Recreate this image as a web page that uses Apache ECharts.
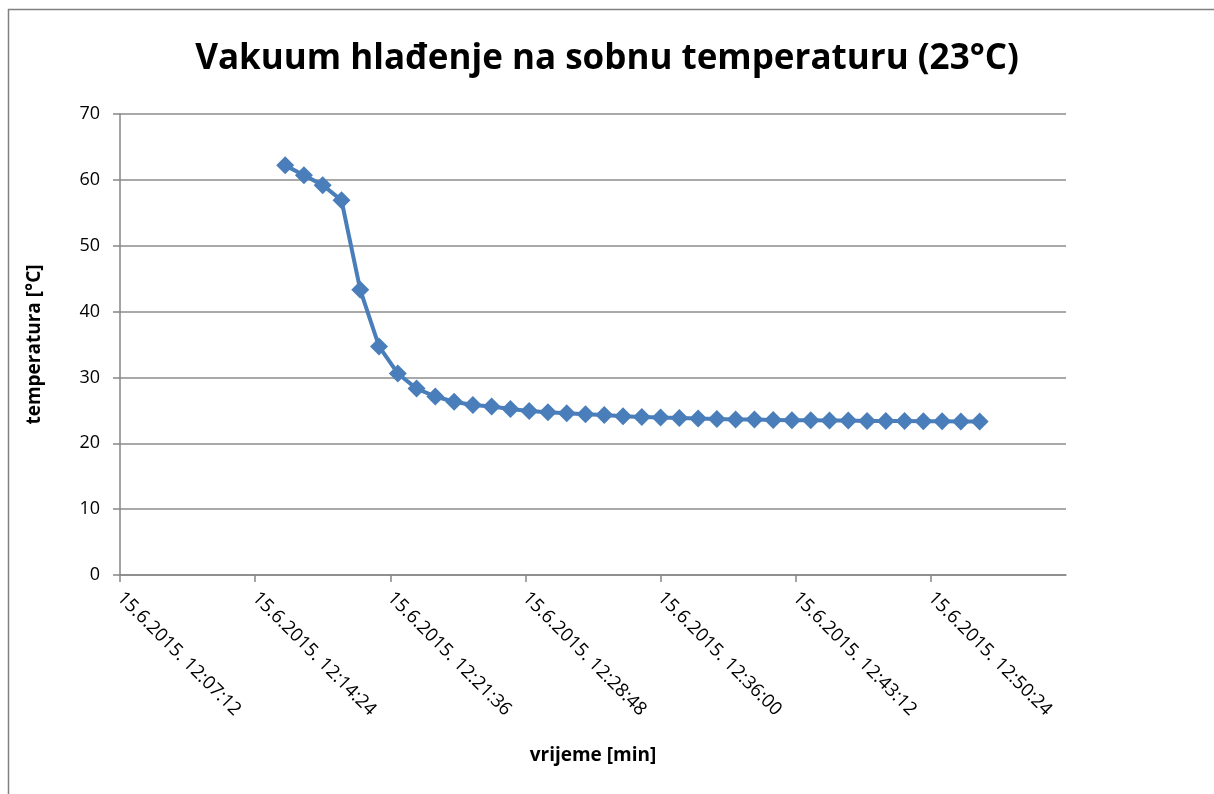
<!DOCTYPE html>
<html>
<head>
<meta charset="utf-8">
<script src="https://cdn.jsdelivr.net/npm/echarts@6/dist/echarts.min.js"></script>
<style>html,body{margin:0;padding:0;background:#fff}#c{width:1214px;height:794px}</style>
</head>
<body>
<div id="c"></div>
<script>
var titleText = 'Vakuum hlađenje na sobnu temperaturu (23°C)';
var times = ['12:16:00','12:17:00','12:18:00','12:19:00','12:20:00','12:21:00','12:22:00','12:23:00','12:24:00','12:25:00',
  '12:26:00','12:27:00','12:28:00','12:29:00','12:30:00','12:31:00','12:32:00','12:33:00','12:34:00','12:35:00',
  '12:36:00','12:37:00','12:38:00','12:39:00','12:40:00','12:41:00','12:42:00','12:43:00','12:44:00','12:45:00',
  '12:46:00','12:47:00','12:48:00','12:49:00','12:50:00','12:51:00','12:52:00','12:53:00'];
var temps = [62.2,60.7,59.2,56.9,43.3,34.7,30.6,28.3,27.1,26.3,
  25.8,25.6,25.2,24.9,24.7,24.55,24.4,24.3,24.1,24.0,
  23.9,23.85,23.75,23.7,23.6,23.6,23.55,23.5,23.5,23.45,
  23.45,23.4,23.4,23.4,23.35,23.35,23.3,23.3];
var xTickLabels = ['12:07:12','12:14:24','12:21:36','12:28:48','12:36:00','12:43:12','12:50:24'];
var xMaxTime = '12:57:36';
var datePrefix = '15.6.2015. ';

function toSec(s){var p=s.split(':');return (+p[0])*3600+(+p[1])*60+(+p[2]);}
function pad(n){return (n<10?'0':'')+n;}
function fmt(v){var h=Math.floor(v/3600),m=Math.floor((v%3600)/60),s=Math.round(v%60);return datePrefix+pad(h)+':'+pad(m)+':'+pad(s);}

var tickVals = xTickLabels.map(toSec);
var data = times.map(function(t,i){return [toSec(t), temps[i]];});
var font = '"Open Sans", "Liberation Sans", sans-serif';

var chart = echarts.init(document.getElementById('c'), null, {renderer:'canvas'});
chart.setOption({
  animation:false,
  title:{text:titleText,left:'center',top:37,textStyle:{fontFamily:font,fontSize:35,fontWeight:'bold',color:'#000'}},
  grid:{left:120,right:148,top:114,bottom:219,containLabel:false},
  xAxis:{
    type:'value',
    min:tickVals[0], max:toSec(xMaxTime), interval:432,
    name:'vrijeme [min]', nameLocation:'middle', nameGap:171,
    nameTextStyle:{fontFamily:font,fontSize:19,fontWeight:'bold',color:'#000'},
    axisLine:{show:true,lineStyle:{color:'#868686',width:1.5}},
    axisTick:{show:true,length:7,inside:false,customValues:tickVals,lineStyle:{color:'#868686',width:1.5}},
    axisLabel:{rotate:-45,margin:20,fontFamily:font,fontSize:18.5,color:'#000',customValues:tickVals,
      formatter:function(v){return fmt(v);}},
    splitLine:{show:false}
  },
  yAxis:{
    type:'value',min:0,max:70,interval:10,
    name:'temperatura [°C]', nameLocation:'middle', nameGap:76, nameRotate:90,
    nameTextStyle:{fontFamily:font,fontSize:19,fontWeight:'bold',color:'#000'},
    axisLine:{show:true,lineStyle:{color:'#868686',width:1.5}},
    axisTick:{show:true,length:7,lineStyle:{color:'#868686',width:1.5}},
    axisLabel:{margin:20,fontFamily:font,fontSize:18,color:'#000'},
    splitLine:{show:true,lineStyle:{color:'#8c8c8c',width:1.5}}
  },
  graphic:[
    {type:'line',shape:{x1:8,y1:9.5,x2:1214,y2:9.5},style:{stroke:'#808080',lineWidth:1.5},silent:true},
    {type:'line',shape:{x1:8.5,y1:9,x2:8.5,y2:794},style:{stroke:'#808080',lineWidth:1.5},silent:true}
  ],
  series:[{
    type:'line',data:data,
    symbol:'diamond',symbolSize:18,
    lineStyle:{color:'#4a7ebb',width:4},
    itemStyle:{color:'#4a7ebb'},
    showAllSymbol:true
  }]
});
</script>
</body>
</html>
